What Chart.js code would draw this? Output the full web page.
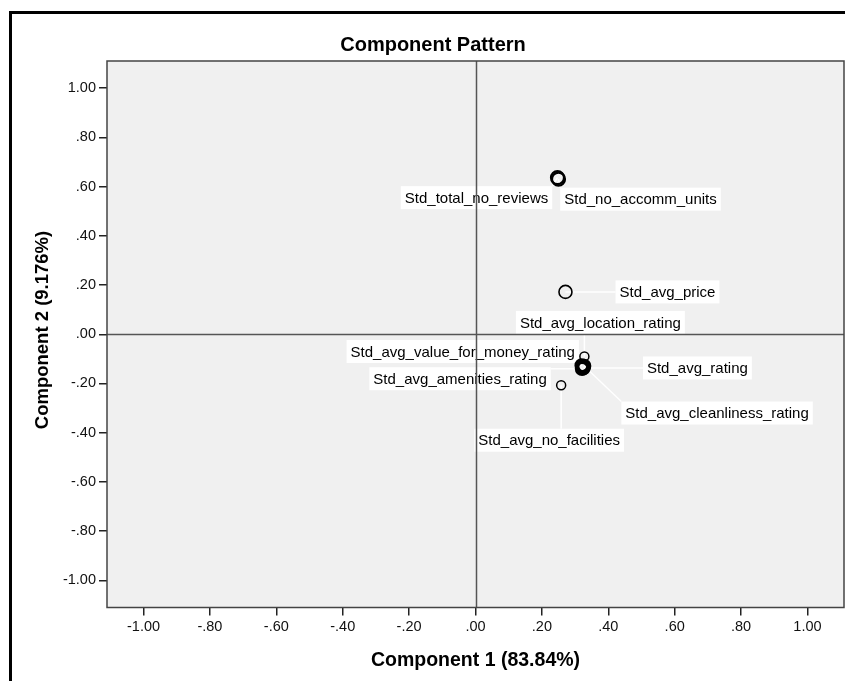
<!DOCTYPE html>
<html>
<head>
<meta charset="utf-8">
<script src="https://cdn.jsdelivr.net/npm/chart.js@4/dist/chart.umd.min.js"></script>
<style>
html,body{margin:0;padding:0;background:#fff;}
canvas{display:block;}
</style>
</head>
<body>
<canvas id="c" width="845" height="681"></canvas>
<script>
// ---- data ----
const variables = [
  'Std_total_no_reviews',
  'Std_no_accomm_units',
  'Std_avg_price',
  'Std_avg_location_rating',
  'Std_avg_value_for_money_rating',
  'Std_avg_rating',
  'Std_avg_amenities_rating',
  'Std_avg_cleanliness_rating',
  'Std_avg_no_facilities'
];
const component1 = [0.247, 0.250, 0.271, 0.328, 0.320, 0.325, 0.321, 0.327, 0.258];
const component2 = [0.636, 0.630, 0.172, -0.090, -0.127, -0.137, -0.140, -0.129, -0.207];
const tickValues = [-1.0, -0.8, -0.6, -0.4, -0.2, 0.0, 0.2, 0.4, 0.6, 0.8, 1.0];
const xTickLabels = ['-1.00', '-.80', '-.60', '-.40', '-.20', '.00', '.20', '.40', '.60', '.80', '1.00'];
const yTickLabels = ['-1.00', '-.80', '-.60', '-.40', '-.20', '.00', '.20', '.40', '.60', '.80', '1.00'];
const chartTitle = 'Component Pattern';
const xTitle = 'Component 1 (83.84%)';
const yTitle = 'Component 2 (9.176%)';

// ---- layout (pixels) ----
const labelOffsets = [[-81, 20], [82, 20], [102, 0], [16, -34], [-119, -14], [114, 0], [-122, 10], [133, 47], [-12, 55]];
const pointSizes = [6.5, 6.5, 6.5, 4.5, 6, 6, 6, 6, 4.5];
const pointBorders = [2.2, 2.2, 1.6, 1.5, 2.6, 2.6, 2.6, 2.6, 1.5];
const FONT = "'Liberation Sans', Arial, sans-serif";

const points = component1.map((x, i) => ({x: x, y: component2[i]}));

const decor = {
  id: 'decor',
  beforeDraw(chart) {
    const ctx = chart.ctx, a = chart.chartArea;
    ctx.save();
    ctx.fillStyle = '#fff';
    ctx.fillRect(0, 0, chart.width, chart.height);
    // outer frame
    ctx.strokeStyle = '#000';
    ctx.lineWidth = 3;
    ctx.beginPath();
    ctx.moveTo(10.5, chart.height + 5);
    ctx.lineTo(10.5, 12.5);
    ctx.lineTo(chart.width + 5, 12.5);
    ctx.stroke();
    // plot background
    ctx.fillStyle = '#f0f0f0';
    ctx.fillRect(a.left, a.top, a.right - a.left, a.bottom - a.top);
    // titles
    ctx.fillStyle = '#000';
    ctx.textAlign = 'center';
    ctx.textBaseline = 'middle';
    ctx.font = 'bold 20px ' + FONT;
    ctx.fillText(chartTitle, 433, 45);
    ctx.font = 'bold 19.5px ' + FONT;
    ctx.fillText(xTitle, (a.left + a.right) / 2, 661);
    ctx.font = 'bold 18.5px ' + FONT;
    ctx.translate(43, 330);
    ctx.rotate(-Math.PI / 2);
    ctx.fillText(yTitle, 0, 0);
    ctx.restore();
  },
  beforeDatasetsDraw(chart) {
    const ctx = chart.ctx, a = chart.chartArea;
    const xs = chart.scales.x, ys = chart.scales.y;
    ctx.save();
    ctx.font = '15px ' + FONT;
    ctx.textAlign = 'center';
    ctx.textBaseline = 'middle';
    const boxes = variables.map((name, i) => {
      const px = xs.getPixelForValue(component1[i]);
      const py = ys.getPixelForValue(component2[i]);
      const cx = px + labelOffsets[i][0], cy = py + labelOffsets[i][1];
      const w = ctx.measureText(name).width + 8, h = 23;
      return {name, px, py, cx, cy, x0: cx - w / 2, y0: cy - h / 2, w, h};
    });
    // connectors
    ctx.strokeStyle = '#ffffff';
    ctx.lineWidth = 1.5;
    boxes.forEach(b => {
      const nx = Math.max(b.x0, Math.min(b.px, b.x0 + b.w));
      const ny = Math.max(b.y0, Math.min(b.py, b.y0 + b.h));
      ctx.beginPath();
      ctx.moveTo(b.px, b.py);
      ctx.lineTo(nx, ny);
      ctx.stroke();
    });
    boxes.forEach(b => {
      ctx.fillStyle = '#fff';
      ctx.fillRect(b.x0, b.y0, b.w, b.h);
      ctx.fillStyle = '#000';
      ctx.fillText(b.name, b.cx, b.cy + 1);
    });
    // zero reference lines
    const x0 = Math.round(xs.getPixelForValue(0)) + 0.5;
    const y0 = Math.round(ys.getPixelForValue(0)) + 0.5;
    ctx.strokeStyle = '#555';
    ctx.lineWidth = 1.5;
    ctx.beginPath();
    ctx.moveTo(x0, a.top); ctx.lineTo(x0, a.bottom);
    ctx.moveTo(a.left, y0); ctx.lineTo(a.right, y0);
    ctx.stroke();
    // plot border
    ctx.strokeStyle = '#444';
    ctx.lineWidth = 1.5;
    ctx.strokeRect(a.left, a.top, a.right - a.left, a.bottom - a.top);
    ctx.restore();
  }
};

const tickCommon = {
  color: '#111',
  font: {family: FONT, size: 14.5}
};

function noPad(s) { s.paddingLeft = 0; s.paddingRight = 0; s.paddingTop = 0; s.paddingBottom = 0; }

new Chart(document.getElementById('c'), {
  type: 'scatter',
  data: {
    datasets: [{
      data: points,
      pointRadius: pointSizes,
      pointHoverRadius: pointSizes,
      pointBorderWidth: pointBorders,
      pointBorderColor: '#000',
      pointBackgroundColor: 'rgba(0,0,0,0)'
    }]
  },
  options: {
    responsive: false,
    animation: false,
    devicePixelRatio: 1,
    layout: {autoPadding: false, padding: {left: 0, right: 1, top: 61, bottom: 0}},
    plugins: {legend: {display: false}, title: {display: false}, tooltip: {enabled: false}},
    scales: {
      x: {
        type: 'linear', min: -1.11, max: 1.11,
        afterBuildTicks: s => { s.ticks = tickValues.map(v => ({value: v})); },
        afterFit: s => { s.height = 73.5; noPad(s); },
        ticks: Object.assign({}, tickCommon, {padding: 3, maxRotation: 0, autoSkip: false,
          callback: (v, i) => xTickLabels[i]}),
        grid: {display: true, drawOnChartArea: false, drawTicks: true, tickLength: 8, color: '#222', lineWidth: 1.5},
        border: {display: false}
      },
      y: {
        type: 'linear', min: -1.11, max: 1.11,
        afterBuildTicks: s => { s.ticks = tickValues.map(v => ({value: v})); },
        afterFit: s => { s.width = 107; noPad(s); },
        ticks: Object.assign({}, tickCommon, {padding: 3, autoSkip: false,
          callback: (v, i) => yTickLabels[i]}),
        grid: {display: true, drawOnChartArea: false, drawTicks: true, tickLength: 8, color: '#222', lineWidth: 1.5},
        border: {display: false}
      }
    }
  },
  plugins: [decor]
});
</script>
</body>
</html>
